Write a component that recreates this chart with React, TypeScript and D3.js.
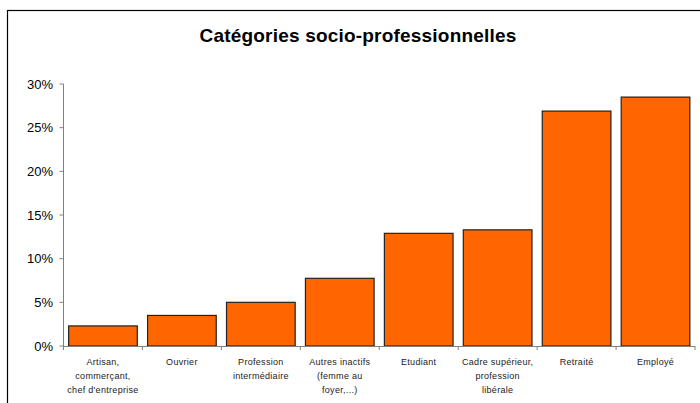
import React from "react";
import * as d3 from "d3";

const categories: string[][] = [
  ["Artisan,", "commerçant,", "chef d'entreprise"],
  ["Ouvrier"],
  ["Profession", "intermédiaire"],
  ["Autres inactifs", "(femme au", "foyer,...)"],
  ["Etudiant"],
  ["Cadre supérieur,", "profession", "libérale"],
  ["Retraité"],
  ["Employé"],
];
const values: number[] = [2.3, 3.5, 5.0, 7.75, 12.9, 13.3, 26.9, 28.5];
const yTicks: number[] = [0, 5, 10, 15, 20, 25, 30];
const title = "Catégories socio-professionnelles";

export default function App() {
  const W = 700, H = 403;
  const x0 = 63.5, x1 = 695, yBottom = 346, yTop = 84;
  const keys = categories.map((_, i) => String(i));
  const x = d3.scaleBand<string>().domain(keys).range([x0, x1]).paddingInner(0.13).paddingOuter(0.065);
  const y = d3.scaleLinear().domain([0, 30]).range([yBottom, yTop]);
  const step = (x1 - x0) / categories.length;
  const font = "Arial, 'Liberation Sans', sans-serif";
  return (
    <svg width={W} height={H} style={{ position: "absolute", left: 0, top: 0, background: "#fff" }}>
      <rect x={7.5} y={10.5} width={720} height={420} fill="#fff" stroke="#000" strokeWidth={1.2} />
      <text x={358} y={42} textAnchor="middle" fontFamily={font} fontWeight="bold" fontSize={19} letterSpacing={0.2} fill="#000">
        {title}
      </text>
      {values.map((v, i) => (
        <rect
          key={i}
          x={x(String(i))!}
          y={y(v)}
          width={x.bandwidth()}
          height={yBottom - y(v)}
          fill="#FF6600"
          stroke="#222"
          strokeWidth={1.2}
        />
      ))}
      <line x1={x0} x2={x0} y1={yTop} y2={yBottom} stroke="#808080" strokeWidth={1} />
      <line x1={x0} x2={x1} y1={yBottom + 0.5} y2={yBottom + 0.5} stroke="#808080" strokeWidth={1} />
      {yTicks.map((t) => (
        <g key={t}>
          <line x1={x0 - 4} x2={x0} y1={y(t)} y2={y(t)} stroke="#808080" />
          <text x={53} y={y(t) + 4.5} textAnchor="end" fontFamily={font} fontSize={13} fill="#000">
            {t}%
          </text>
        </g>
      ))}
      {d3.range(categories.length + 1).map((i) => (
        <line key={i} x1={x0 + i * step} x2={x0 + i * step} y1={yBottom} y2={yBottom + 4} stroke="#808080" />
      ))}
      {categories.map((lines, i) => (
        <text key={i} textAnchor="middle" fontFamily={font} fontSize={9} letterSpacing={0.3} fill="#222">
          {lines.map((l, j) => (
            <tspan key={j} x={x(String(i))! + x.bandwidth() / 2} y={364.5 + j * 14.3}>
              {l}
            </tspan>
          ))}
        </text>
      ))}
    </svg>
  );
}
